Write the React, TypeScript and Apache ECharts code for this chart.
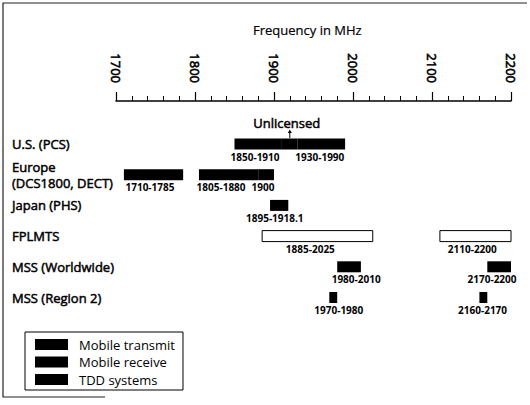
import { useEffect, useRef } from "react";
import * as echarts from "echarts";

const FONT = '"Open Sans", "DejaVu Sans", sans-serif';

const rowNames = [
  "U.S. (PCS)",
  "Europe\n(DCS1800, DECT)",
  "Japan (PHS)",
  "FPLMTS",
  "MSS (Worldwide)",
  "MSS (Region 2)",
];

const freqMin = 1700;
const freqMax = 2200;
const freqStep = 100;
const minorSplit = 5;

// [start MHz, end MHz, row index]
const transmitBands = [
  [1850, 1910, 0],
  [1710, 1785, 1],
  [1980, 2010, 4],
  [1970, 1980, 5],
];
const receiveBands = [
  [1930, 1990, 0],
  [1805, 1880, 1],
  [2170, 2200, 4],
  [2160, 2170, 5],
];
const tddBands = [
  [1910, 1930, 0],
  [1880, 1900, 1],
  [1895, 1918.1, 2],
];
const fplmtsBands = [
  [1885, 2025, 3],
  [2110, 2200, 3],
];

const bandLabels = [
  "1850-1910",
  "1930-1990",
  "1710-1785",
  "1805-1880",
  "1900",
  "1895-1918.1",
  "1885-2025",
  "2110-2200",
  "1980-2010",
  "2170-2200",
  "1970-1980",
  "2160-2170",
];
const bandLabelAt = [1876, 1958, 1743, 1833, 1886, 1901, 1946, 2151, 2004, 2176, 1982, 2164];
const bandLabelRow = [0, 0, 1, 1, 1, 2, 3, 3, 4, 4, 5, 5];

const unlicensedLabel = "Unlicensed";
const unlicensedAt = 1920;

const legendNames = ["Mobile transmit", "Mobile receive", "TDD systems"];
const titleText = "Frequency in MHz";

const BAR_H = 11;

function bandRender(fill: string, stroke: string | null) {
  return (params: any, api: any) => {
    const row = api.value(2);
    const a = api.coord([api.value(0), row]);
    const b = api.coord([api.value(1), row]);
    return {
      type: "rect",
      shape: { x: a[0], y: a[1] - BAR_H / 2, width: b[0] - a[0], height: BAR_H },
      style: stroke ? { fill, stroke, lineWidth: 1 } : { fill },
    };
  };
}

export default function App() {
  const ref = useRef<HTMLDivElement>(null);

  useEffect(() => {
    if (!ref.current) return;
    const chart = echarts.init(ref.current, null, { renderer: "svg" });

    const option: any = {
      animation: false,
      backgroundColor: "#ffffff",
      title: {
        text: titleText,
        left: 248,
        top: 18,
        textStyle: {
          fontFamily: FONT,
          fontSize: 13,
          fontWeight: "normal",
          color: "#000",
          textBorderColor: "#000",
          textBorderWidth: 0.2,
        },
      },
      grid: { left: 116, right: 19, top: 128.65, height: 184.2 },
      xAxis: {
        type: "value",
        position: "top",
        offset: 27.65,
        min: freqMin,
        max: freqMax,
        interval: freqStep,
        splitLine: { show: false },
        axisLine: { show: true, lineStyle: { color: "#000", width: 1.5 } },
        axisTick: { show: true, length: 9, lineStyle: { color: "#000", width: 1.2 } },
        minorTick: { show: true, splitNumber: minorSplit, length: 5, lineStyle: { color: "#000", width: 1 } },
        axisLabel: {
          rotate: 90,
          margin: 18,
          formatter: (v: number) => String(v),
          fontFamily: FONT,
          fontSize: 13,
          fontWeight: "normal",
          color: "#000",
          textBorderColor: "#000",
          textBorderWidth: 0.6,
        },
      },
      yAxis: {
        type: "category",
        inverse: true,
        data: rowNames,
        axisLine: { show: false },
        axisTick: { show: false },
        splitLine: { show: false },
        axisLabel: {
          align: "left",
          margin: 104,
          fontFamily: FONT,
          fontSize: 13,
          fontWeight: "normal",
          lineHeight: 16,
          color: "#000",
          textBorderColor: "#000",
          textBorderWidth: 0.5,
        },
      },
      legend: {
        data: legendNames,
        orient: "vertical",
        left: 25,
        top: 332,
        icon: "rect",
        itemWidth: 33,
        itemHeight: 11,
        itemGap: 4.5,
        padding: [6, 8, 4, 10],
        borderColor: "#000",
        borderWidth: 1,
        selectedMode: false,
        textStyle: { fontFamily: FONT, fontSize: 13, color: "#000", padding: [0, 0, 0, 6] },
      },
      series: [
        {
          name: legendNames[0],
          type: "custom",
          renderItem: bandRender("#000", null),
          encode: { x: [0, 1], y: 2 },
          itemStyle: { color: "#000" },
          data: transmitBands,
        },
        {
          name: legendNames[1],
          type: "custom",
          renderItem: bandRender("#000", null),
          encode: { x: [0, 1], y: 2 },
          itemStyle: { color: "#000" },
          data: receiveBands,
        },
        {
          name: legendNames[2],
          type: "custom",
          renderItem: bandRender("#000", null),
          encode: { x: [0, 1], y: 2 },
          itemStyle: { color: "#000" },
          data: tddBands,
        },
        {
          name: "FPLMTS",
          type: "custom",
          renderItem: bandRender("#fff", "#000"),
          encode: { x: [0, 1], y: 2 },
          itemStyle: { color: "#fff" },
          data: fplmtsBands,
        },
        {
          name: "labels",
          type: "custom",
          silent: true,
          encode: { x: 0, y: 1 },
          data: bandLabelAt.map((at, i) => [at, bandLabelRow[i]]),
          renderItem: (params: any, api: any) => {
            const p = api.coord([api.value(0), api.value(1)]);
            return {
              type: "text",
              x: p[0],
              y: p[1] + 12.5,
              style: {
                text: bandLabels[params.dataIndex],
                align: "center",
                verticalAlign: "middle",
                fontFamily: FONT,
                fontSize: 10,
                fontWeight: "bold",
                fill: "#000",
              },
            };
          },
        },
        {
          name: "unlicensed",
          type: "custom",
          silent: true,
          encode: { x: 0, y: 1 },
          data: [[unlicensedAt, 0]],
          renderItem: (params: any, api: any) => {
            const p = api.coord([api.value(0), api.value(1)]);
            const x = p[0];
            const y = p[1];
            return {
              type: "group",
              children: [
                {
                  type: "text",
                  x: x - 3,
                  y: y - 21,
                  style: {
                    text: unlicensedLabel,
                    align: "center",
                    verticalAlign: "middle",
                    fontFamily: FONT,
                    fontSize: 13,
                    fontWeight: "normal",
                    fill: "#000",
                    stroke: "#000",
                    lineWidth: 0.5,
                  },
                },
                {
                  type: "line",
                  shape: { x1: x, y1: y - 13, x2: x, y2: y - 6 },
                  style: { stroke: "#000", lineWidth: 1 },
                },
                {
                  type: "polygon",
                  shape: { points: [[x - 2, y - 11], [x + 2, y - 11], [x, y - 14.5]] },
                  style: { fill: "#000" },
                },
              ],
            };
          },
        },
      ],
      graphic: [
        {
          type: "polyline",
          silent: true,
          shape: { points: [[527, 3], [3, 3], [3, 397], [105, 397]] },
          style: { stroke: "#222", lineWidth: 1.2, fill: null },
        },
      ],
    };

    chart.setOption(option);
    return () => chart.dispose();
  }, []);

  return (
    <div
      ref={ref}
      style={{ position: "fixed", left: 0, top: 0, width: 530, height: 405, background: "#fff" }}
    />
  );
}
